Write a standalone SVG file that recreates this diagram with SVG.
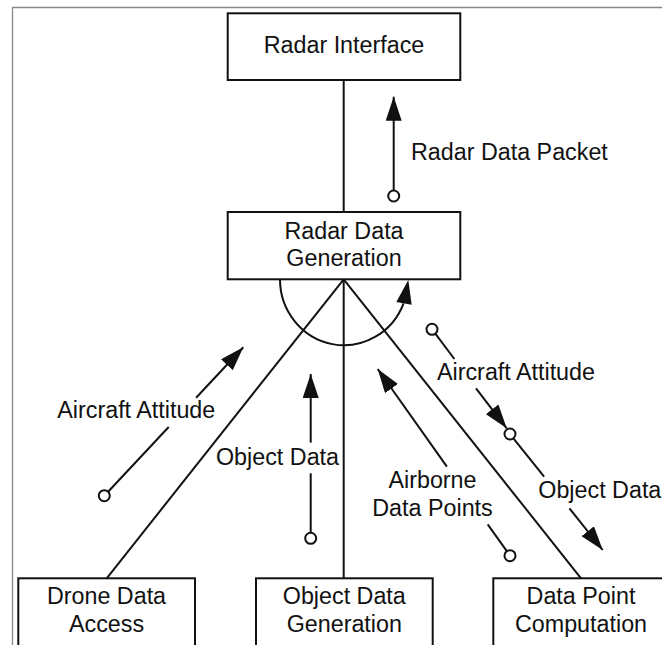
<svg xmlns="http://www.w3.org/2000/svg" width="662" height="645" viewBox="0 0 662 645">
<defs>
<style>
.box{fill:#fff;stroke:#111;stroke-width:2}
.ln{fill:none;stroke:#111;stroke-width:2}
.fl{fill:none;stroke:#111;stroke-width:2}
.cir{fill:#fff;stroke:#111;stroke-width:2}
text{font-family:"Liberation Sans",Arial,sans-serif;font-size:23.3px;fill:#111}
.c{text-anchor:middle}
</style>
<marker id="arr" markerUnits="userSpaceOnUse" markerWidth="24" markerHeight="16" refX="24" refY="8" orient="auto" viewBox="0 0 24 16">
<path d="M0,0 L24,8 L0,16 z" fill="#111"/>
</marker>
</defs>
<rect width="662" height="645" fill="#fff"/>
<path d="M12.5,645 V7.5 H662" fill="none" stroke="#888" stroke-width="1.3"/>

<g id="connectors">
<line class="ln" x1="343.7" y1="80" x2="343.7" y2="212"/>
<line class="ln" x1="343.7" y1="279.3" x2="106.7" y2="578.3"/>
<line class="ln" x1="343.7" y1="279.3" x2="343.7" y2="578.3"/>
<line class="ln" x1="343.7" y1="279.3" x2="581" y2="578.3"/>
<path class="ln" d="M280,279.3 A64,66 0 0 0 403.6,303.3"/>
<polygon points="408.3,280 411.7,304.7 396.3,301.9" fill="#111"/>
</g>

<g id="flows">
<g id="flow-radar-data-packet">
<line class="fl" x1="393.7" y1="190.5" x2="393.7" y2="96.7" marker-end="url(#arr)"/>
<circle class="cir" cx="393.7" cy="196" r="5.5"/>
<text x="411" y="160">Radar Data Packet</text>
</g>
<g id="flow-aircraft-attitude-left">
<line class="fl" x1="108.1" y1="491.7" x2="168.7" y2="427"/>
<line class="fl" x1="196.1" y1="397.7" x2="243.3" y2="347.3" marker-end="url(#arr)"/>
<circle class="cir" cx="104.3" cy="495.7" r="5.5"/>
<text x="57.3" y="418.3">Aircraft Attitude</text>
</g>
<g id="flow-object-data-mid">
<line class="fl" x1="310.7" y1="532.8" x2="310.7" y2="473.3"/>
<line class="fl" x1="310.7" y1="442.7" x2="310.7" y2="374" marker-end="url(#arr)"/>
<circle class="cir" cx="310.7" cy="538.3" r="5.5"/>
<text x="216" y="465">Object Data</text>
</g>
<g id="flow-airborne-data-points">
<line class="fl" x1="506.8" y1="551.2" x2="487.7" y2="524.3"/>
<line class="fl" x1="446.9" y1="466.7" x2="377.7" y2="369" marker-end="url(#arr)"/>
<circle class="cir" cx="510" cy="555.7" r="5.5"/>
<text class="c" x="432.5" y="488.3">Airborne</text>
<text class="c" x="432.5" y="516">Data Points</text>
</g>
<g id="flow-aircraft-attitude-right">
<line class="fl" x1="435.3" y1="333.7" x2="454.4" y2="359"/>
<line class="fl" x1="476" y1="388.3" x2="506.7" y2="428.3" marker-end="url(#arr)"/>
<circle class="cir" cx="432" cy="329.3" r="5.5"/>
<text x="437" y="380">Aircraft Attitude</text>
</g>
<g id="flow-object-data-right">
<line class="fl" x1="513.4" y1="438.3" x2="544.1" y2="476.7"/>
<line class="fl" x1="569.4" y1="508.3" x2="602.7" y2="550" marker-end="url(#arr)"/>
<circle class="cir" cx="510" cy="434" r="5.5"/>
<text x="538.3" y="498.3">Object Data</text>
</g>
</g>

<g id="radar-interface">
<rect class="box" x="227.7" y="13.3" width="232.6" height="66.7"/>
<text class="c" x="344" y="53.3">Radar Interface</text>
</g>
<g id="radar-data-generation">
<rect class="box" x="227.7" y="212" width="232.6" height="67.3"/>
<text class="c" x="344" y="238.5">Radar Data</text>
<text class="c" x="344" y="265.5">Generation</text>
</g>
<g id="drone-data-access">
<rect class="box" x="18.3" y="578.3" width="176.7" height="80"/>
<text class="c" x="106.5" y="604">Drone Data</text>
<text class="c" x="106.5" y="631.7">Access</text>
</g>
<g id="object-data-generation">
<rect class="box" x="256" y="578.3" width="176.7" height="80"/>
<text class="c" x="344.3" y="604">Object Data</text>
<text class="c" x="344.3" y="631.7">Generation</text>
</g>
<g id="data-point-computation">
<rect class="box" x="493.3" y="578.3" width="176.7" height="80"/>
<text class="c" x="581" y="604">Data Point</text>
<text class="c" x="581" y="631.7">Computation</text>
</g>
</svg>
